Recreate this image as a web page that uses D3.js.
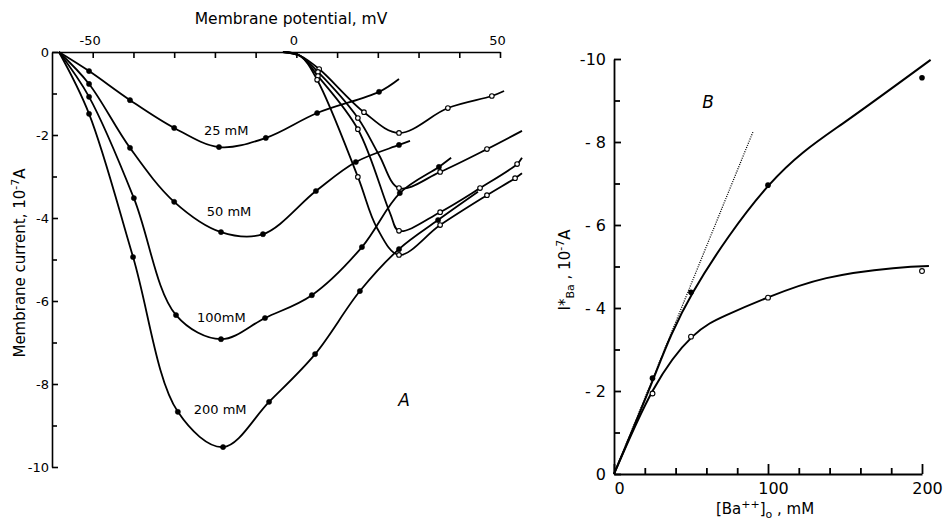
<!DOCTYPE html>
<html>
<head>
<meta charset="utf-8">
<script src="https://cdn.jsdelivr.net/npm/d3@7"></script>
<style>
body { margin: 0; background: #fff; }
svg { display: block; font-family: "DejaVu Sans", sans-serif; }
</style>
</head>
<body>
<div id="main_div"></div>
<script>
// Panel A: [membrane potential mV, current 10^-7 A, 1 = measured point]
const filled25 = [[-58.3,0,0],[-50.9,-0.46,1],[-40.85,-1.16,1],[-30.0,-1.83,1],[-19.0,-2.29,1],[-7.5,-2.07,1],[5.1,-1.47,1],[20.3,-0.96,1],[25.2,-0.65,0]];
const filled50 = [[-58.3,0,0],[-50.9,-0.77,1],[-40.85,-2.31,1],[-30.0,-3.61,1],[-18.5,-4.34,1],[-8.2,-4.39,1],[4.8,-3.35,1],[14.6,-2.65,1],[25.2,-2.24,1],[27.9,-2.14,0]];
const filled100 = [[-58.3,0,0],[-50.9,-1.08,1],[-39.9,-3.52,1],[-29.55,-6.34,1],[-18.5,-6.92,1],[-7.7,-6.41,1],[3.8,-5.86,1],[16.1,-4.70,1],[25.4,-3.40,1],[35.0,-2.77,1],[38.0,-2.55,0]];
const filled200 = [[-58.3,0,0],[-50.9,-1.49,1],[-40.1,-4.94,1],[-29.1,-8.67,1],[-18.0,-9.52,1],[-6.7,-8.43,1],[4.6,-7.28,1],[15.6,-5.76,1],[25.2,-4.75,1],[34.8,-4.05,1],[44.6,-3.37,0]];

const open25 = [[-3.3,0,0],[0.9,-0.09,0],[5.6,-0.41,1],[16.6,-1.45,1],[25.2,-1.95,1],[37.2,-1.35,1],[48.0,-1.06,1],[51.0,-0.94,0]];
const open50 = [[-3.3,0,0],[0.9,-0.09,0],[5.3,-0.48,1],[15.1,-1.59,1],[20.3,-2.48,0],[25.2,-3.28,1],[35.3,-2.89,1],[46.8,-2.34,1],[55.4,-1.90,0]];
const open100 = [[-3.3,0,0],[0.9,-0.09,0],[5.3,-0.58,1],[15.1,-1.86,1],[23.0,-3.88,0],[25.2,-4.31,1],[35.3,-3.86,1],[45.1,-3.28,1],[54.2,-2.70,1],[55.4,-2.55,0]];
const open200 = [[-3.3,0,0],[0.9,-0.09,0],[5.1,-0.67,1],[15.1,-3.01,1],[19.8,-4.24,0],[25.2,-4.89,1],[35.3,-4.17,1],[46.8,-3.45,1],[53.7,-3.04,1],[55.4,-2.92,0]];

const concNames = ["25 mM", "50 mM", "100mM", "200 mM"];

// Panel B: [Ba++]o mM vs peak current
const concB = [25, 50, 100, 200];
const peakFilled = [-2.31, -4.38, -6.96, -9.55];
const peakOpen = [-1.94, -3.31, -4.25, -4.89];
const fitFilled = [[0,0],[25.3,-2.27],[51.3,-4.38],[100.6,-6.96],[148.7,-8.45],[205.6,-9.98]];
const fitOpen = [[0,0],[25.3,-2.02],[50.9,-3.31],[73,-3.83],[99.6,-4.25],[137.9,-4.72],[181.2,-4.96],[204.5,-5.01]];
const slopeLine = [[0,0],[90.3,-8.25]];

const svg = d3.select("#main_div").append("svg")
    .attr("width", 945).attr("height", 524);

// ---------- panel A ----------
const xA = d3.scaleLinear().domain([-60, 50]).range([52, 500]);
const yA = d3.scaleLinear().domain([0, -10]).range([52, 467]);

const gA = svg.append("g");

gA.append("g")
    .attr("transform", "translate(0,52)")
    .call(d3.axisTop(xA)
        .tickValues(d3.range(-50, 51, 10))
        .tickFormat(d => [-50, 0, 50].includes(d) ? String(d) : "")
        .tickSizeInner(-6).tickSizeOuter(0).tickPadding(7))
    .call(g => g.selectAll("text").attr("font-size", 13).attr("font-family", "DejaVu Sans").attr("dx", -3));

gA.append("g")
    .attr("transform", "translate(52,0)")
    .call(d3.axisLeft(yA)
        .tickValues([0, -2, -4, -6, -8, -10])
        .tickFormat(d => String(d))
        .tickSizeInner(-6).tickSizeOuter(0).tickPadding(3))
    .call(g => g.selectAll("text").attr("font-size", 13).attr("font-family", "DejaVu Sans"));

gA.append("g")
    .attr("transform", "translate(52,0)")
    .call(d3.axisLeft(yA).tickValues([-1, -3, -5, -7, -9]).tickFormat("").tickSizeInner(-5).tickSizeOuter(0))
    .call(g => g.select(".domain").remove());

gA.selectAll(".domain, .tick line").attr("stroke-width", 1.6);

const lineA = d3.line()
    .x(d => xA(d[0]))
    .y(d => yA(d[1]))
    .curve(d3.curveCatmullRom.alpha(0.5));

const seriesA = [
    { pts: filled25, open: false }, { pts: filled50, open: false },
    { pts: filled100, open: false }, { pts: filled200, open: false },
    { pts: open25, open: true }, { pts: open50, open: true },
    { pts: open100, open: true }, { pts: open200, open: true }
];

seriesA.forEach(s => {
    gA.append("path")
        .datum(s.pts)
        .attr("fill", "none")
        .attr("stroke", "#000")
        .attr("stroke-width", 1.8)
        .attr("d", lineA);
});

seriesA.forEach(s => {
    gA.selectAll(null)
        .data(s.pts.filter(d => d[2] === 1))
        .join("circle")
        .attr("cx", d => xA(d[0]))
        .attr("cy", d => yA(d[1]))
        .attr("r", s.open ? 2.3 : 2.6)
        .attr("fill", s.open ? "#fff" : "#000")
        .attr("stroke", "#000")
        .attr("stroke-width", s.open ? 1.1 : 0.5);
});

// concentration labels next to the minima
const labelPos = [[-22.7, -2.0], [-22.0, -3.96], [-24.4, -6.5], [-25.2, -8.72]];
gA.selectAll(".conc")
    .data(concNames)
    .join("text")
    .attr("x", (d, i) => xA(labelPos[i][0]))
    .attr("y", (d, i) => yA(labelPos[i][1]))
    .attr("font-size", 13)
    .text(d => d);

gA.append("text")
    .attr("x", 291).attr("y", 24)
    .attr("text-anchor", "middle")
    .attr("font-size", 15.5)
    .text("Membrane potential, mV");

const yLabA = gA.append("text")
    .attr("transform", "translate(25,263) rotate(-90)")
    .attr("text-anchor", "middle")
    .attr("font-size", 15);
yLabA.append("tspan").text("Membrane current, 10");
yLabA.append("tspan").attr("dy", -6).attr("font-size", 11).text("-7");
yLabA.append("tspan").attr("dy", 6).text("A");

gA.append("text")
    .attr("x", 404).attr("y", 406)
    .attr("text-anchor", "middle")
    .attr("font-size", 17)
    .attr("font-style", "italic")
    .text("A");

// ---------- panel B ----------
const xB = d3.scaleLinear().domain([0, 200]).range([614, 922]);
const yB = d3.scaleLinear().domain([0, -10]).range([474, 59]);

const gB = svg.append("g");

gB.append("g")
    .attr("transform", "translate(614,0)")
    .call(d3.axisLeft(yB)
        .tickValues([0, -2, -4, -6, -8, -10])
        .tickFormat(d => d === 0 ? "0" : d === -10 ? "-10" : "- " + (-d))
        .tickSizeInner(-7).tickSizeOuter(0).tickPadding(8))
    .call(g => g.selectAll("text").attr("font-size", 16).attr("font-family", "DejaVu Sans"));

gB.append("g")
    .attr("transform", "translate(614,0)")
    .call(d3.axisLeft(yB).tickValues([-1, -3, -5, -7, -9]).tickFormat("").tickSizeInner(-6).tickSizeOuter(0))
    .call(g => g.select(".domain").remove());

gB.append("g")
    .attr("transform", "translate(0,474)")
    .call(d3.axisBottom(xB)
        .tickValues([0, 100, 200])
        .tickFormat(d => String(d))
        .tickSizeInner(-10).tickSizeOuter(0).tickPadding(9))
    .call(g => g.selectAll("text").attr("font-size", 16).attr("dx", 5).attr("font-family", "DejaVu Sans"));

gB.append("g")
    .attr("transform", "translate(0,474)")
    .call(d3.axisBottom(xB).tickValues([20, 40, 60, 80, 120, 140, 160, 180]).tickFormat("").tickSizeInner(-6).tickSizeOuter(0))
    .call(g => g.select(".domain").remove());

gB.selectAll(".domain, .tick line").attr("stroke-width", 1.8);

const lineB = d3.line()
    .x(d => xB(d[0]))
    .y(d => yB(d[1]))
    .curve(d3.curveNatural);

gB.append("path")
    .datum(slopeLine)
    .attr("fill", "none")
    .attr("stroke", "#000")
    .attr("stroke-width", 1.3)
    .attr("stroke-dasharray", "1,1.3")
    .attr("d", lineB);

[fitFilled, fitOpen].forEach(f => {
    gB.append("path")
        .datum(f)
        .attr("fill", "none")
        .attr("stroke", "#000")
        .attr("stroke-width", 2)
        .attr("d", lineB);
});

gB.selectAll(".pf")
    .data(concB)
    .join("circle")
    .attr("cx", d => xB(d))
    .attr("cy", (d, i) => yB(peakFilled[i]))
    .attr("r", 2.8)
    .attr("fill", "#000");

gB.selectAll(".po")
    .data(concB)
    .join("circle")
    .attr("cx", d => xB(d))
    .attr("cy", (d, i) => yB(peakOpen[i]))
    .attr("r", 2.4)
    .attr("fill", "#fff")
    .attr("stroke", "#000")
    .attr("stroke-width", 1.1);

gB.append("text")
    .attr("x", 708).attr("y", 108)
    .attr("text-anchor", "middle")
    .attr("font-size", 17)
    .attr("font-style", "italic")
    .text("B");

const yLabB = gB.append("text")
    .attr("transform", "translate(570,270) rotate(-90)")
    .attr("text-anchor", "middle")
    .attr("font-size", 15);
yLabB.append("tspan").text("I*");
yLabB.append("tspan").attr("dy", 4).attr("font-size", 11).text("Ba");
yLabB.append("tspan").attr("dy", -4).text(" , 10");
yLabB.append("tspan").attr("dy", -6).attr("font-size", 11).text("-7");
yLabB.append("tspan").attr("dy", 6).text("A");

const xLabB = gB.append("text")
    .attr("x", 765).attr("y", 514)
    .attr("text-anchor", "middle")
    .attr("font-size", 15);
xLabB.append("tspan").text("[Ba");
xLabB.append("tspan").attr("dy", -6).attr("font-size", 11).text("++");
xLabB.append("tspan").attr("dy", 6).text("]");
xLabB.append("tspan").attr("dy", 4).attr("font-size", 11).text("o");
xLabB.append("tspan").attr("dy", -4).text(" ,  mM");
</script>
</body>
</html>
